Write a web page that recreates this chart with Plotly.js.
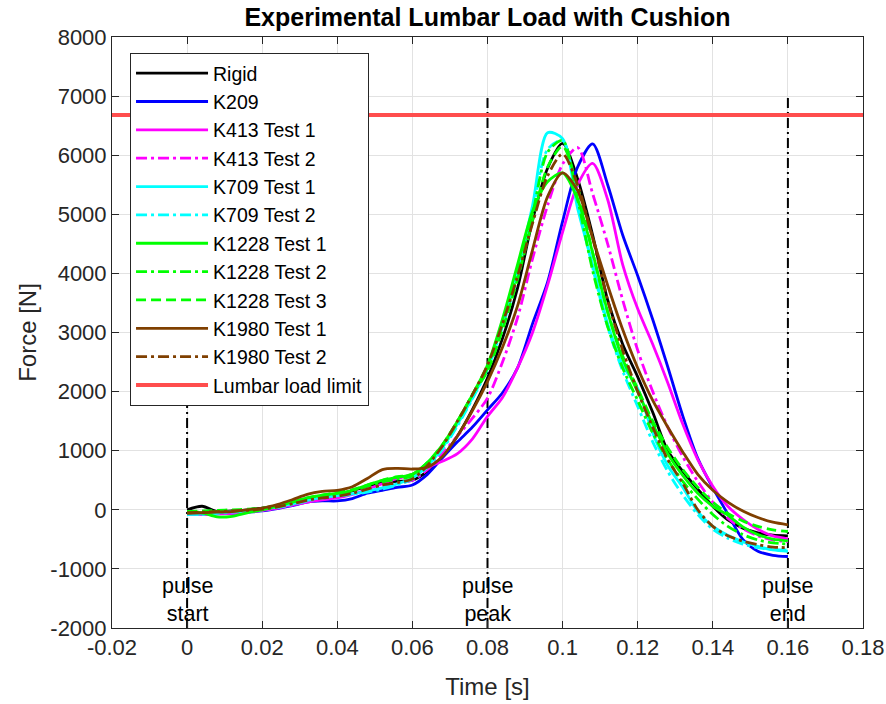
<!DOCTYPE html>
<html>
<head>
<meta charset="utf-8">
<script src="https://cdn.plot.ly/plotly-3.0.1.min.js"></script>
<style>html,body{margin:0;padding:0;background:#fff}#chart{width:886px;height:704px}</style>
</head>
<body>
<div id="chart"></div>
<script>
// Time grid [s]
const time = [0,0.004,0.008,0.012,0.016,0.02,0.024,0.028,0.032,0.036,0.04,0.044,0.048,0.052,0.056,0.06,0.064,0.068,0.072,0.076,0.08,0.084,0.088,0.092,0.096,0.1,0.104,0.108,0.112,0.116,0.12,0.124,0.128,0.132,0.136,0.14,0.144,0.148,0.152,0.156,0.16];

// Force series [N]
const rigid   = [0,60,-30,-20,0,30,60,110,180,230,260,320,400,460,480,500,650,900,1250,1700,2230,2900,3750,4900,5780,6200,5600,4650,3550,2800,2250,1650,1000,650,350,60,-170,-310,-390,-430,-440];
const k209    = [-60,-70,-70,-60,-40,-20,20,70,130,150,150,190,280,330,380,420,600,880,1150,1400,1690,1980,2400,3150,3850,4880,5800,6190,5500,4650,3960,3220,2420,1590,870,370,-70,-500,-700,-770,-790];
const k413_1  = [-80,-80,-70,-60,-40,-10,30,80,130,170,200,260,350,440,530,600,720,820,950,1200,1580,1900,2400,3000,3800,4700,5500,5860,5250,4150,3400,2800,2150,1450,850,400,60,-160,-330,-440,-490];
const k413_2  = [-60,-60,-50,-40,-30,-10,30,80,140,190,220,270,340,400,450,500,680,950,1250,1550,1890,2500,3250,4250,5150,5850,6130,5350,4500,3550,2700,2000,1400,900,480,130,-140,-320,-440,-510,-540];
const k709_1  = [-80,-70,-50,-30,-10,10,50,100,160,210,240,270,320,370,440,540,740,1050,1450,1900,2400,3180,4050,5150,6380,6280,5100,4150,3150,2450,2050,1300,750,380,-30,-280,-430,-540,-620,-680,-705];
const k709_2  = [-70,-80,-60,-40,-20,0,40,90,150,200,230,260,300,350,420,520,720,1020,1420,1880,2380,3100,3950,5050,6100,6250,5200,4100,3100,2350,1750,1150,650,250,-80,-330,-480,-580,-640,-670,-680];
const k1228_1 = [-30,-50,-120,-110,-50,0,60,130,200,250,280,330,420,500,550,600,800,1100,1500,1950,2450,3230,4150,5050,5550,5700,5250,4350,3350,2550,2000,1450,950,580,280,60,-90,-290,-420,-495,-525];
const k1228_2 = [-40,-40,-30,-20,-10,10,50,110,180,230,270,320,400,470,520,570,780,1080,1480,1950,2400,3150,4000,5000,6050,6250,5250,4050,3100,2400,1850,1300,850,480,180,-80,-280,-420,-510,-560,-580];
const k1228_3 = [-30,-20,-10,0,10,30,70,130,200,250,290,340,420,500,560,600,800,1100,1500,1950,2350,3050,3900,4900,5800,6150,5450,4350,3350,2600,2050,1500,1050,680,380,130,-60,-190,-280,-340,-367];
const k1980_1 = [-60,-50,-40,-30,0,30,90,170,260,310,330,390,530,680,700,690,720,900,1250,1680,2170,2750,3450,4400,5300,5700,5400,4600,3800,3050,2400,1850,1400,980,600,330,130,-20,-130,-210,-254];
const k1980_2 = [-50,-40,-30,-20,-10,10,50,100,160,200,230,280,350,420,460,520,750,1080,1500,1950,2450,3150,3950,4850,5650,6020,5500,4600,3550,2700,2000,1400,850,450,0,-280,-440,-530,-590,-630,-640];

// Lumbar load limit [N]
const lumbarLimit = 6680;
const limitTimes = [-0.02, 0.18];

// Pulse markers
const pulseTimes = [0, 0.08, 0.16];
const pulseLabels = ['pulse<br>start', 'pulse<br>peak', 'pulse<br>end'];
const pulseLineRange = [-2000, 7000];

// Axis ticks
const xTickVals = [-0.02,0,0.02,0.04,0.06,0.08,0.1,0.12,0.14,0.16,0.18];
const xTickText = ['-0.02','0','0.02','0.04','0.06','0.08','0.1','0.12','0.14','0.16','0.18'];
const yTickVals = [-2000,-1000,0,1000,2000,3000,4000,5000,6000,7000,8000];
const yTickText = ['-2000','-1000','0','1000','2000','3000','4000','5000','6000','7000','8000'];

const FONT = 'Liberation Sans, Arial, Helvetica, sans-serif';
const TXT = '#262626';
const LW = 2.8;
const DASHDOT = '11px,4px,3px,4px';
const DASH = '10px,5px';

function series(name, y, color, dash) {
  return {x: time, y: y, name: name, type: 'scatter', mode: 'lines',
    line: {color: color, width: LW, dash: dash || 'solid', shape: 'spline', smoothing: 0.8}};
}

// vertical pulse lines from data
const vx = [], vy = [];
pulseTimes.forEach(function(t, i) {
  vx.push(t, t); vy.push(pulseLineRange[0], pulseLineRange[1]);
  if (i < pulseTimes.length - 1) { vx.push(null); vy.push(null); }
});

const brown = '#7f3f00';
const traces = [
  {x: vx, y: vy, type: 'scatter', mode: 'lines', showlegend: false, hoverinfo: 'skip',
   line: {color: '#000', width: 2, dash: '10px,4px,2px,4px'}},
  series('Rigid', rigid, '#000000'),
  series('K209', k209, '#0000ff'),
  series('K413 Test 1', k413_1, '#ff00ff'),
  series('K413 Test 2', k413_2, '#ff00ff', DASHDOT),
  series('K709 Test 1', k709_1, '#00ffff'),
  series('K709 Test 2', k709_2, '#00ffff', DASHDOT),
  series('K1228 Test 1', k1228_1, '#00ff00'),
  series('K1228 Test 2', k1228_2, '#00ff00', DASHDOT),
  series('K1228 Test 3', k1228_3, '#00ff00', DASH),
  series('K1980 Test 1', k1980_1, brown),
  series('K1980 Test 2', k1980_2, brown, DASHDOT),
  {x: limitTimes, y: limitTimes.map(function(){return lumbarLimit;}), name: 'Lumbar load limit',
   type: 'scatter', mode: 'lines', line: {color: '#ff4d4d', width: 4}}
];

const annotations = pulseTimes.map(function(t, i) {
  return {x: t, y: -1520, xref: 'x', yref: 'y', text: pulseLabels[i], showarrow: false,
    font: {family: FONT, size: 21.5, color: '#000'}, align: 'center', bgcolor: 'rgba(0,0,0,0)'};
});

const axisCommon = {
  ticks: 'inside', ticklen: 7, tickwidth: 1, tickcolor: TXT,
  showline: true, linecolor: TXT, linewidth: 1, mirror: 'allticks',
  showgrid: true, gridcolor: '#e2e2e2', gridwidth: 1, zeroline: false,
  tickfont: {family: FONT, size: 22, color: TXT}
};

const layout = {
  width: 886, height: 704,
  margin: {l: 112, r: 23, t: 37, b: 76},
  paper_bgcolor: '#fff', plot_bgcolor: '#fff',
  font: {family: FONT, color: TXT},
  title: {text: '<b>Experimental Lumbar Load with Cushion</b>', font: {family: FONT, size: 25, color: '#000'},
    x: 0.5, xref: 'paper', y: 1 - 17/704, yref: 'container', yanchor: 'middle'},
  xaxis: Object.assign({}, axisCommon, {range: [-0.02, 0.18], tickmode: 'array', tickvals: xTickVals, ticktext: xTickText,
    title: {text: 'Time [s]', font: {family: FONT, size: 24, color: TXT}, standoff: 18}}),
  yaxis: Object.assign({}, axisCommon, {range: [-2000, 8000], tickmode: 'array', tickvals: yTickVals, ticktext: yTickText,
    title: {text: 'Force [N]', font: {family: FONT, size: 24, color: TXT}, standoff: 6}}),
  legend: {x: 0.024, y: 0.973, xanchor: 'left', yanchor: 'top', bgcolor: '#fff',
    bordercolor: TXT, borderwidth: 1, font: {family: FONT, size: 19.5, color: '#000'}, itemwidth: 72,
    tracegroupgap: 0},
  annotations: annotations,
  showlegend: true
};

Plotly.newPlot('chart', traces, layout, {displayModeBar: false, staticPlot: true});
</script>
</body>
</html>
